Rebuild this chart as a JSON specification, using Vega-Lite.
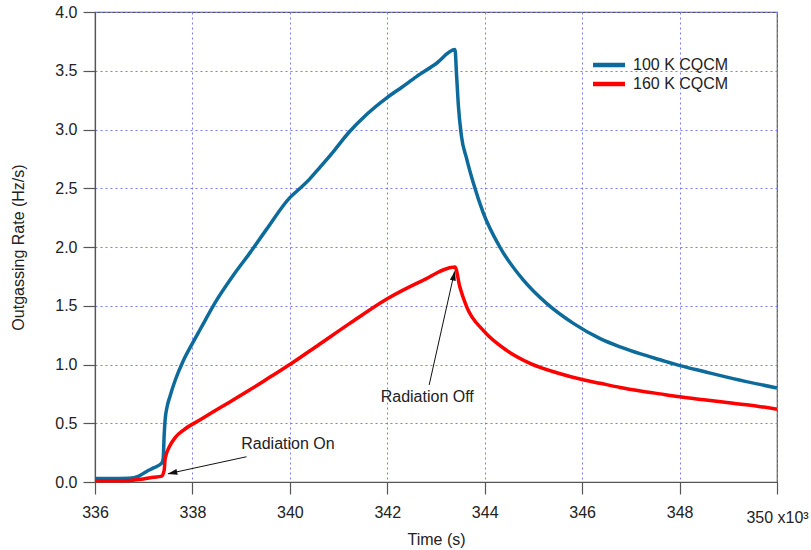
{
  "$schema": "https://vega.github.io/schema/vega-lite/v6.json",
  "width": 682,
  "height": 470,
  "autosize": {"type": "none"},
  "padding": {"left": 95, "top": 12, "right": 34, "bottom": 68},
  "background": "white",
  "config": {
    "font": "Liberation Sans",
    "view": {"stroke": "#555555", "strokeWidth": 1.2},
    "axis": {
      "labelFont": "Liberation Sans",
      "labelFontSize": 16,
      "labelColor": "#222222",
      "titleFont": "Liberation Sans",
      "titleFontSize": 16,
      "titleFontWeight": "normal",
      "titleColor": "#222222",
      "domainColor": "#555555",
      "domainWidth": 1.2,
      "tickColor": "#555555",
      "tickWidth": 1.2,
      "tickSize": 12,
      "gridColor": "#7a7aff",
      "gridDash": [2, 3],
      "gridWidth": 1,
      "gridOpacity": 1
    }
  },
  "datasets": {
    "series": [
      {"t": 336.0, "rate": 0.03, "sensor": "100 K CQCM"},
      {"t": 336.5, "rate": 0.03, "sensor": "100 K CQCM"},
      {"t": 336.7, "rate": 0.031, "sensor": "100 K CQCM"},
      {"t": 336.9, "rate": 0.05, "sensor": "100 K CQCM"},
      {"t": 337.06, "rate": 0.09, "sensor": "100 K CQCM"},
      {"t": 337.2, "rate": 0.12, "sensor": "100 K CQCM"},
      {"t": 337.37, "rate": 0.16, "sensor": "100 K CQCM"},
      {"t": 337.4, "rate": 0.2, "sensor": "100 K CQCM"},
      {"t": 337.42, "rate": 0.4, "sensor": "100 K CQCM"},
      {"t": 337.44, "rate": 0.53, "sensor": "100 K CQCM"},
      {"t": 337.48, "rate": 0.64, "sensor": "100 K CQCM"},
      {"t": 337.54, "rate": 0.73, "sensor": "100 K CQCM"},
      {"t": 337.65, "rate": 0.87, "sensor": "100 K CQCM"},
      {"t": 337.81, "rate": 1.03, "sensor": "100 K CQCM"},
      {"t": 338.0, "rate": 1.18, "sensor": "100 K CQCM"},
      {"t": 338.16, "rate": 1.3, "sensor": "100 K CQCM"},
      {"t": 338.5, "rate": 1.55, "sensor": "100 K CQCM"},
      {"t": 338.84, "rate": 1.76, "sensor": "100 K CQCM"},
      {"t": 339.18, "rate": 1.95, "sensor": "100 K CQCM"},
      {"t": 339.52, "rate": 2.15, "sensor": "100 K CQCM"},
      {"t": 340.0, "rate": 2.42, "sensor": "100 K CQCM"},
      {"t": 340.21, "rate": 2.5, "sensor": "100 K CQCM"},
      {"t": 340.41, "rate": 2.58, "sensor": "100 K CQCM"},
      {"t": 340.6, "rate": 2.67, "sensor": "100 K CQCM"},
      {"t": 340.89, "rate": 2.81, "sensor": "100 K CQCM"},
      {"t": 341.2, "rate": 2.97, "sensor": "100 K CQCM"},
      {"t": 341.58, "rate": 3.13, "sensor": "100 K CQCM"},
      {"t": 341.99, "rate": 3.27, "sensor": "100 K CQCM"},
      {"t": 342.3, "rate": 3.36, "sensor": "100 K CQCM"},
      {"t": 342.6, "rate": 3.45, "sensor": "100 K CQCM"},
      {"t": 343.0, "rate": 3.56, "sensor": "100 K CQCM"},
      {"t": 343.39, "rate": 3.68, "sensor": "100 K CQCM"},
      {"t": 343.42, "rate": 3.48, "sensor": "100 K CQCM"},
      {"t": 343.46, "rate": 3.2, "sensor": "100 K CQCM"},
      {"t": 343.52, "rate": 2.95, "sensor": "100 K CQCM"},
      {"t": 343.63, "rate": 2.75, "sensor": "100 K CQCM"},
      {"t": 343.77, "rate": 2.54, "sensor": "100 K CQCM"},
      {"t": 343.97, "rate": 2.29, "sensor": "100 K CQCM"},
      {"t": 344.31, "rate": 2.0, "sensor": "100 K CQCM"},
      {"t": 344.79, "rate": 1.72, "sensor": "100 K CQCM"},
      {"t": 345.27, "rate": 1.52, "sensor": "100 K CQCM"},
      {"t": 345.82, "rate": 1.35, "sensor": "100 K CQCM"},
      {"t": 346.37, "rate": 1.22, "sensor": "100 K CQCM"},
      {"t": 346.78, "rate": 1.15, "sensor": "100 K CQCM"},
      {"t": 347.2, "rate": 1.09, "sensor": "100 K CQCM"},
      {"t": 347.6, "rate": 1.04, "sensor": "100 K CQCM"},
      {"t": 348.01, "rate": 0.99, "sensor": "100 K CQCM"},
      {"t": 348.5, "rate": 0.94, "sensor": "100 K CQCM"},
      {"t": 349.1, "rate": 0.88, "sensor": "100 K CQCM"},
      {"t": 350.0, "rate": 0.8, "sensor": "100 K CQCM"},
      {"t": 336.0, "rate": 0.01, "sensor": "160 K CQCM"},
      {"t": 336.5, "rate": 0.01, "sensor": "160 K CQCM"},
      {"t": 336.99, "rate": 0.026, "sensor": "160 K CQCM"},
      {"t": 337.2, "rate": 0.04, "sensor": "160 K CQCM"},
      {"t": 337.37, "rate": 0.05, "sensor": "160 K CQCM"},
      {"t": 337.42, "rate": 0.1, "sensor": "160 K CQCM"},
      {"t": 337.44, "rate": 0.2, "sensor": "160 K CQCM"},
      {"t": 337.54, "rate": 0.31, "sensor": "160 K CQCM"},
      {"t": 337.65, "rate": 0.38, "sensor": "160 K CQCM"},
      {"t": 337.81, "rate": 0.44, "sensor": "160 K CQCM"},
      {"t": 338.16, "rate": 0.53, "sensor": "160 K CQCM"},
      {"t": 338.6, "rate": 0.64, "sensor": "160 K CQCM"},
      {"t": 339.18, "rate": 0.785, "sensor": "160 K CQCM"},
      {"t": 339.6, "rate": 0.895, "sensor": "160 K CQCM"},
      {"t": 340.0, "rate": 1.0, "sensor": "160 K CQCM"},
      {"t": 340.6, "rate": 1.17, "sensor": "160 K CQCM"},
      {"t": 341.23, "rate": 1.35, "sensor": "160 K CQCM"},
      {"t": 342.0, "rate": 1.56, "sensor": "160 K CQCM"},
      {"t": 342.7, "rate": 1.71, "sensor": "160 K CQCM"},
      {"t": 343.39, "rate": 1.83, "sensor": "160 K CQCM"},
      {"t": 343.49, "rate": 1.66, "sensor": "160 K CQCM"},
      {"t": 343.63, "rate": 1.49, "sensor": "160 K CQCM"},
      {"t": 343.97, "rate": 1.29, "sensor": "160 K CQCM"},
      {"t": 344.45, "rate": 1.12, "sensor": "160 K CQCM"},
      {"t": 344.93, "rate": 1.01, "sensor": "160 K CQCM"},
      {"t": 345.48, "rate": 0.93, "sensor": "160 K CQCM"},
      {"t": 346.02, "rate": 0.87, "sensor": "160 K CQCM"},
      {"t": 346.37, "rate": 0.84, "sensor": "160 K CQCM"},
      {"t": 346.78, "rate": 0.805, "sensor": "160 K CQCM"},
      {"t": 347.2, "rate": 0.775, "sensor": "160 K CQCM"},
      {"t": 347.6, "rate": 0.75, "sensor": "160 K CQCM"},
      {"t": 348.01, "rate": 0.725, "sensor": "160 K CQCM"},
      {"t": 348.5, "rate": 0.7, "sensor": "160 K CQCM"},
      {"t": 349.1, "rate": 0.67, "sensor": "160 K CQCM"},
      {"t": 349.6, "rate": 0.645, "sensor": "160 K CQCM"},
      {"t": 350.0, "rate": 0.62, "sensor": "160 K CQCM"}
    ],
    "notes": [
      {"t": 339.96, "rate": 0.32, "note": "Radiation On"},
      {"t": 342.82, "rate": 0.726, "note": "Radiation Off"}
    ],
    "arrows": [
      {"t": 339.11, "rate": 0.215, "t2": 337.5, "rate2": 0.07},
      {"t": 342.86, "rate": 0.826, "t2": 343.38, "rate2": 1.79}
    ],
    "heads": [
      {"t": 337.585, "rate": 0.077, "angle": 257.7},
      {"t": 343.368, "rate": 1.757, "angle": 12.7}
    ]
  },
  "layer": [
    {
      "data": {"name": "series"},
      "mark": {"type": "line", "strokeWidth": 3.5, "strokeJoin": "round", "interpolate": "monotone"},
      "encoding": {
        "x": {
          "field": "t",
          "type": "quantitative",
          "scale": {"domain": [336, 350], "nice": false, "zero": false},
          "axis": {
            "title": "Time (s)",
            "values": [336, 338, 340, 342, 344, 346, 348, 350],
            "labelExpr": "datum.value == 350 ? '350 x10³' : datum.label",
            "labelPadding": {"condition": {"test": "datum.value == 350", "value": 15}, "value": 10},
            "labelFlush": false,
            "labelOverlap": false,
            "titlePadding": 6
          }
        },
        "y": {
          "field": "rate",
          "type": "quantitative",
          "scale": {"domain": [0, 4], "nice": false},
          "axis": {
            "title": "Outgassing Rate (Hz/s)",
            "values": [0, 0.5, 1, 1.5, 2, 2.5, 3, 3.5, 4],
            "format": ".1f",
            "labelPadding": 6,
            "titlePadding": 28,
            "labelFlush": false
          }
        },
        "color": {
          "field": "sensor",
          "type": "nominal",
          "scale": {"domain": ["100 K CQCM", "160 K CQCM"], "range": ["#0d6b9b", "#ff0000"]},
          "legend": {
            "orient": "none",
            "legendX": 506,
            "legendY": 45,
            "title": null,
            "labelFont": "Liberation Sans",
            "labelFontSize": 16,
            "labelColor": "#222222",
            "symbolType": "M-4,0H4",
            "symbolSize": 64,
            "symbolStrokeWidth": 4.5,
            "labelOffset": 16,
            "rowPadding": 1
          }
        }
      }
    },
    {
      "data": {"name": "arrows"},
      "mark": {"type": "rule", "color": "#111111", "strokeWidth": 1},
      "encoding": {
        "x": {"field": "t", "type": "quantitative"},
        "y": {"field": "rate", "type": "quantitative"},
        "x2": {"field": "t2"},
        "y2": {"field": "rate2"}
      }
    },
    {
      "data": {"name": "heads"},
      "mark": {"type": "point", "shape": "M0,-1L0.6,1L-0.6,1Z", "size": 100, "filled": true, "color": "#111111", "opacity": 1},
      "encoding": {
        "x": {"field": "t", "type": "quantitative"},
        "y": {"field": "rate", "type": "quantitative"},
        "angle": {"field": "angle", "type": "quantitative", "scale": null}
      }
    },
    {
      "data": {"name": "notes"},
      "mark": {"type": "text", "font": "Liberation Sans", "fontSize": 16, "color": "#222222", "align": "center", "baseline": "middle"},
      "encoding": {
        "x": {"field": "t", "type": "quantitative"},
        "y": {"field": "rate", "type": "quantitative"},
        "text": {"field": "note"}
      }
    }
  ]
}
